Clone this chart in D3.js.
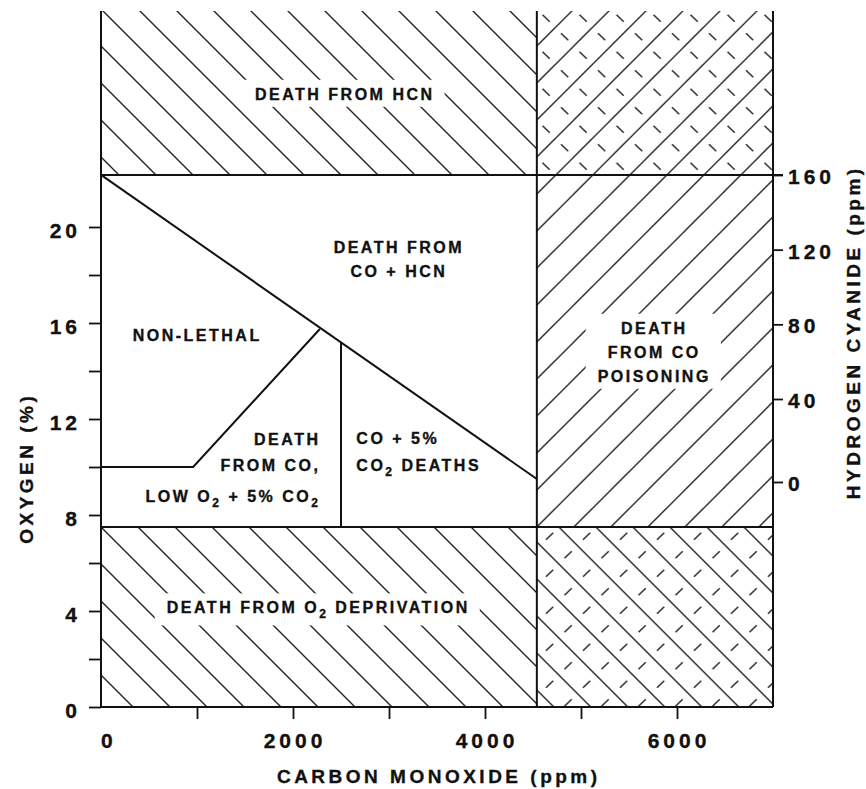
<!DOCTYPE html>
<html>
<head>
<meta charset="utf-8">
<script src="https://cdn.jsdelivr.net/npm/d3@7/dist/d3.min.js"></script>
<style>
  body { margin: 0; background: #fff; }
  svg text { font-family: "Liberation Sans", Arial, Helvetica, sans-serif; font-weight: bold; fill: #111; stroke: #111; stroke-width: 0.35px; }
</style>
</head>
<body>
<svg id="chart" width="866" height="789"></svg>
<script>
// ---- axis ticks ----
const oxygenTicks = [0, 2, 4, 6, 8, 10, 12, 14, 16, 18, 20];   // O2 %
const oxygenLabels = [0, 4, 8, 12, 16, 20];
const coTicks = [1000, 2000, 3000, 4000, 5000, 6000];            // CO ppm
const coLabels = [0, 2000, 4000, 6000];
const hcnTicks = [0, 40, 80, 120, 160];                          // HCN ppm

// ---- lethal limits ----
const coLimit = 4540;    // CO ppm above which CO alone is fatal
const o2Limit = 7.5;     // O2 % below which deprivation is fatal
const hcnLimit = 160;    // HCN ppm above which HCN alone is fatal
const co2Split = 2500;   // CO ppm separating the two CO2-assisted zones

// ---- zone boundaries, [CO ppm, O2 %] ----
const comboLine = [[0, 22.17], [4540, 9.5]];
const nonLethalLine = [[0, 10], [960, 10], [2280, 15.75]];

const svg = d3.select("#chart");

const x = d3.scaleLinear().domain([0, 7000]).range([101, 773]);
const y = d3.scaleLinear().domain([0, 29]).range([707, 11]);
const hcn = d3.scaleLinear().domain([0, 40, 160]).range([482, 399, 175]);

const INK = "#111";
const HATCH = "#222";
const S = 37; // hatch spacing

// ---- hatch patterns ----
const defs = svg.append("defs");
function pattern(id, ox, oy, solid, dashed) {
  const p = defs.append("pattern").attr("id", id)
    .attr("patternUnits", "userSpaceOnUse")
    .attr("x", ox).attr("y", oy).attr("width", S).attr("height", S);
  const back = `M-1,-1L${S + 1},${S + 1}M${S - 1},-1L${S + 1},1M-1,${S - 1}L1,${S + 1}`;
  const fwd = `M-1,${S + 1}L${S + 1},-1M-1,1L1,-1M${S - 1},${S + 1}L${S + 1},${S - 1}`;
  p.append("path").attr("d", solid === "back" ? back : fwd)
    .attr("stroke", HATCH).attr("stroke-width", 1.4).attr("fill", "none");
  if (dashed) {
    const h = 3.6;
    let d;
    if (dashed === "back") {
      d = [S / 4, 3 * S / 4].map(c => `M${c - h},${c - h}L${c + h},${c + h}`).join("");
    } else {
      d = [S / 4, 3 * S / 4].map(c => `M${c - h},${S - c + h}L${c + h},${S - c - h}`).join("");
    }
    p.append("path").attr("d", d)
      .attr("stroke", HATCH).attr("stroke-width", 1.4).attr("fill", "none");
  }
}
pattern("leftBack", x(0), y(o2Limit), "back");
pattern("rightFwd", x(coLimit), y(o2Limit), "fwd");
pattern("rightCrossTop", x(coLimit), y(o2Limit), "fwd", "back");
pattern("rightCrossBottom", x(coLimit) + 22, y(o2Limit), "back", "fwd");

const yTop = y.range()[1], yBottom = y(0), yHcn = hcn(hcnLimit), yO2 = y(o2Limit);
const zones = [
  { x0: 0, x1: coLimit, t: yTop, b: yHcn, fill: "leftBack" },
  { x0: coLimit, x1: 7000, t: yTop, b: yHcn, fill: "rightCrossTop" },
  { x0: coLimit, x1: 7000, t: yHcn, b: yO2, fill: "rightFwd" },
  { x0: 0, x1: coLimit, t: yO2, b: yBottom, fill: "leftBack" },
  { x0: coLimit, x1: 7000, t: yO2, b: yBottom, fill: "rightCrossBottom" }
];
svg.append("g").selectAll("rect").data(zones).join("rect")
  .attr("x", d => x(d.x0)).attr("y", d => d.t)
  .attr("width", d => x(d.x1) - x(d.x0)).attr("height", d => d.b - d.t)
  .attr("fill", d => `url(#${d.fill})`);

// ---- boundary lines ----
const lines = svg.append("g").attr("stroke", INK).attr("stroke-width", 2).attr("fill", "none");
const line = d3.line().x(d => x(d[0])).y(d => y(d[1]));
lines.append("line").attr("x1", x(0)).attr("x2", x(7000) + 10).attr("y1", yHcn).attr("y2", yHcn);
lines.append("line").attr("x1", x(0)).attr("x2", x(7000)).attr("y1", yO2).attr("y2", yO2);
lines.append("line").attr("x1", x(coLimit)).attr("x2", x(coLimit)).attr("y1", yTop).attr("y2", yBottom);
lines.append("path").attr("d", line(comboLine));
lines.append("path").attr("d", line(nonLethalLine));
const splitO2 = d3.scaleLinear().domain(comboLine.map(d => d[0])).range(comboLine.map(d => d[1]))(co2Split);
lines.append("line").attr("x1", x(co2Split)).attr("x2", x(co2Split)).attr("y1", y(splitO2)).attr("y2", yO2);

// frame
lines.append("line").attr("x1", x(0)).attr("x2", x(0)).attr("y1", yTop).attr("y2", yBottom);
lines.append("line").attr("x1", x(7000)).attr("x2", x(7000)).attr("y1", yTop).attr("y2", yBottom);
lines.append("line").attr("x1", x(0)).attr("x2", x(7000)).attr("y1", yBottom).attr("y2", yBottom);

// ---- axes ----
const TICK_FS = 21, TICK_LS = 4;
const leftAxis = svg.append("g").attr("transform", `translate(${x(0)},0)`)
  .call(d3.axisLeft(y).tickValues(oxygenTicks).tickSize(12).tickPadding(12)
    .tickFormat(d => oxygenLabels.includes(d) ? d : ""));
const bottomAxis = svg.append("g").attr("transform", `translate(0,${yBottom})`)
  .call(d3.axisBottom(x).tickValues(coTicks).tickSize(12).tickFormat(""));
const rightAxis = svg.append("g").attr("transform", `translate(${x(7000)},0)`)
  .call(d3.axisRight(hcn).tickValues(hcnTicks).tickSize(10).tickPadding(5));
[leftAxis, bottomAxis, rightAxis].forEach(g => {
  g.select(".domain").remove();
  g.selectAll(".tick line").attr("stroke", INK).attr("stroke-width", 1.8);
  g.selectAll(".tick text").attr("font-size", TICK_FS).attr("letter-spacing", TICK_LS)
    .attr("font-family", null).attr("fill", INK);
});
leftAxis.selectAll(".tick text").attr("dx", TICK_LS).attr("dy", "0.5em");
rightAxis.selectAll(".tick text").attr("dy", "0.4em");

svg.append("g").selectAll("text").data(coLabels).join("text")
  .attr("x", d => x(d)).attr("y", 748)
  .attr("text-anchor", d => d === 0 ? "start" : "middle")
  .attr("dx", d => d === 0 ? 0 : TICK_LS / 2)
  .attr("font-size", TICK_FS).attr("letter-spacing", TICK_LS)
  .text(d => d);

// ---- axis titles ----
const TITLE_FS = 19, TITLE_LS = 3.5;
svg.append("text").attr("x", (x(0) + x(7000)) / 2).attr("y", 783)
  .attr("text-anchor", "middle").attr("dx", TITLE_LS / 2)
  .attr("font-size", TITLE_FS).attr("letter-spacing", TITLE_LS)
  .text("CARBON MONOXIDE (ppm)");
svg.append("text").attr("transform", "translate(33,470) rotate(-90)")
  .attr("text-anchor", "middle").attr("dx", TITLE_LS / 2)
  .attr("font-size", TITLE_FS).attr("letter-spacing", TITLE_LS)
  .text("OXYGEN (%)");
svg.append("text").attr("transform", "translate(860,334) rotate(-90)")
  .attr("text-anchor", "middle").attr("dx", TITLE_LS / 2)
  .attr("font-size", TITLE_FS).attr("letter-spacing", TITLE_LS)
  .text("HYDROGEN CYANIDE (ppm)");

// ---- zone labels ----
const LABEL_FS = 16, LABEL_LS = 2.5;
function label(lines, co, o2s, anchor, boxed) {
  const g = svg.append("g");
  const texts = lines.map((str, i) => {
    const t = g.append("text").attr("x", x(co)).attr("y", y(o2s[i]))
      .attr("text-anchor", anchor)
      .attr("dx", anchor === "middle" ? LABEL_LS / 2 : anchor === "end" ? LABEL_LS : 0)
      .attr("font-size", LABEL_FS).attr("letter-spacing", LABEL_LS);
    const parts = str.split(/_(\d)/);
    parts.forEach((p, k) => {
      if (!p) return;
      const sub = k % 2 === 1;
      t.append("tspan").text(p)
        .attr("font-size", sub ? 12 : null)
        .attr("dy", sub ? 5 : (k > 0 ? -5 : 0));
    });
    return t;
  });
  if (boxed) {
    const boxes = texts.map(t => t.node().getBBox());
    const x0 = d3.min(boxes, b => b.x) - 12, x1 = d3.max(boxes, b => b.x + b.width) + 10;
    const y0 = d3.min(boxes, b => b.y) - 6, y1 = d3.max(boxes, b => b.y + b.height) + 4;
    g.insert("rect", "text").attr("x", x0).attr("y", y0)
      .attr("width", x1 - x0).attr("height", y1 - y0).attr("fill", "#fff");
  }
}
label(["DEATH FROM HCN"], 1604, [25.3], "start", true);
label(["DEATH FROM", "CO + HCN"], 3090, [18.9, 17.9], "middle", false);
label(["NON-LETHAL"], 330, [15.25], "start", false);
label(["DEATH", "FROM CO,", "LOW O_2 + 5% CO_2"], 2260, [10.9, 9.82, 8.55], "end", false);
label(["CO + 5%", "CO_2 DEATHS"], 2660, [10.95, 9.83], "start", false);
label(["DEATH", "FROM CO", "POISONING"], 5750, [15.55, 14.55, 13.55], "middle", true);
label(["DEATH FROM O_2 DEPRIVATION"], 2250, [3.9], "middle", true);
</script>
</body>
</html>
